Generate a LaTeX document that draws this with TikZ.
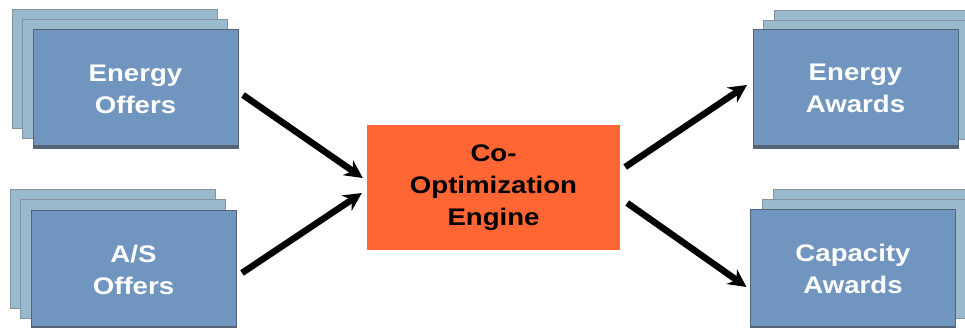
\documentclass[tikz,border=0pt]{standalone}
\usepackage{fontspec}
\setmainfont{Liberation Sans}[FakeStretch=1.15]
\definecolor{cardblue}{RGB}{112, 150, 192}
\definecolor{cardback}{RGB}{152, 186, 204}
\definecolor{cardedge}{RGB}{84, 100, 118}
\definecolor{engineorange}{RGB}{255, 102, 51}
\usetikzlibrary{arrows.meta, calc}

\begin{document}
\begin{tikzpicture}[x=1pt, y=-1pt,
        arr/.style={-{Stealth[length=18pt, width=18pt]}, line width=6.5pt},
        back/.style={draw=cardedge!70, fill=cardback, line width=0.8pt,
                     minimum width=205pt, minimum height=119pt,
                     inner sep=0pt, outer sep=0pt},
        card/.style={back, draw=cardedge, fill=cardblue, text=white,
                     align=center, font=\fontsize{24}{32}\selectfont\bfseries},
        shadeline/.style={draw=cardedge, line width=3pt}
      ]
        \useasboundingbox (0,0) rectangle (965,328);

        % input stacks
        \node[back] (eoffers3) at (115, 69) {};
        \node[back] (eoffers2) at (125, 79) {};
        \node[card] (eoffers) at (135.5, 89) {Energy\\Offers};
        \draw[shadeline] ($(eoffers.south west)+(0,-1.5)$) -- ($(eoffers.south east)+(0,-1.5)$);

        \node[back] (asoffers3) at (113, 249) {};
        \node[back] (asoffers2) at (123, 259) {};
        \node[card] (asoffers) at (133.5, 269.5) {A/S\\Offers};
        \draw[shadeline] ($(asoffers.south west)+(0,-1.5)$) -- ($(asoffers.south east)+(0,-1.5)$);

        % output stacks
        \node[back] (eawards3) at (877, 70) {};
        \node[back] (eawards2) at (866, 80) {};
        \node[card] (eawards) at (855.5, 88.5) {Energy\\Awards};
        \draw[shadeline] ($(eawards.south west)+(0,-1.5)$) -- ($(eawards.south east)+(0,-1.5)$);

        \node[back] (cawards3) at (875.5, 249) {};
        \node[back] (cawards2) at (865, 259) {};
        \node[card] (cawards) at (853, 269) {Capacity\\Awards};
        \draw[shadeline] ($(cawards.south west)+(0,-1.5)$) -- ($(cawards.south east)+(0,-1.5)$);

        % engine
        \node[fill=engineorange, minimum width=253pt, minimum height=125pt,
              inner sep=0pt, align=center,
              font=\fontsize{24}{32}\selectfont\bfseries] (engine) at (493.5, 187.5)
              {Co-\\Optimization\\Engine};

        \draw[arr] ($(eoffers.east)+(5,6)$) -- ($(engine.west)+(-4,-9.5)$);
        \draw[arr] ($(asoffers.east)+(6,3.5)$) -- ($(engine.west)+(-5,5.5)$);
        \draw[arr] ($(engine.east)+(5,-20.5)$) -- ($(eawards.west)+(-6,-3.5)$);
        \draw[arr] ($(engine.east)+(7,15.5)$) -- ($(cawards.west)+(-4,18)$);
      \end{tikzpicture}
\end{document}
